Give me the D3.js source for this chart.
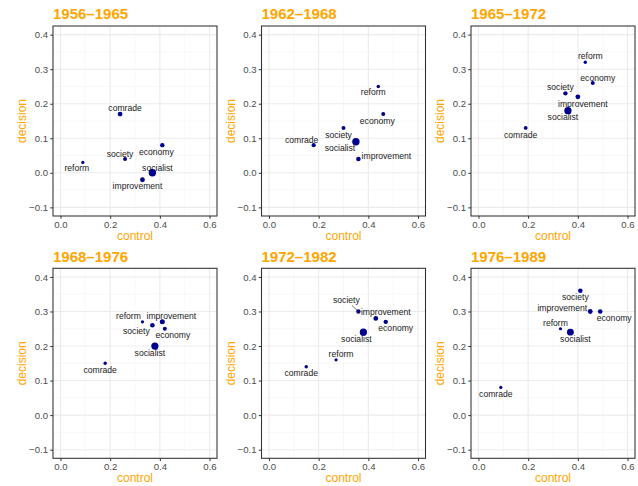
<!DOCTYPE html>
<html>
<head>
<meta charset="utf-8">
<script src="https://cdn.jsdelivr.net/npm/d3@7"></script>
<style>
  body { margin: 0; background: #fff; }
  svg { display: block; font-family: "Liberation Sans", Arial, sans-serif; }
</style>
</head>
<body>
<svg id="chart" width="638" height="486"></svg>
<script>
// data, one entry per period, words in the same order everywhere
var periods = ['1956–1965', '1962–1968', '1965–1972', '1968–1976', '1972–1982', '1976–1989'];
var words = ['comrade', 'economy', 'society', 'reform', 'socialist', 'improvement'];

var controlVals = [
    [0.24, 0.41, 0.26, 0.09, 0.37, 0.33],
    [0.18, 0.46, 0.30, 0.44, 0.35, 0.36],
    [0.19, 0.46, 0.35, 0.43, 0.36, 0.40],
    [0.18, 0.42, 0.37, 0.33, 0.38, 0.41],
    [0.15, 0.47, 0.36, 0.27, 0.38, 0.43],
    [0.09, 0.49, 0.41, 0.33, 0.37, 0.45]
];
var decisionVals = [
    [0.17, 0.08, 0.04, 0.03, 0.00, -0.02],
    [0.08, 0.17, 0.13, 0.25, 0.09, 0.04],
    [0.13, 0.26, 0.23, 0.32, 0.18, 0.22],
    [0.15, 0.25, 0.26, 0.27, 0.20, 0.27],
    [0.14, 0.27, 0.30, 0.16, 0.24, 0.28],
    [0.08, 0.30, 0.36, 0.25, 0.24, 0.30]
];
var freqVals = [
    [42, 35, 29, 19, 100, 42],
    [32, 29, 29, 22, 100, 39],
    [26, 29, 35, 21, 95, 42],
    [21, 29, 39, 19, 95, 46],
    [21, 35, 35, 19, 95, 42],
    [19, 39, 39, 19, 85, 42]
];
var xTicks = [0, 0.2, 0.4, 0.6];
var yTicks = [-0.1, 0, 0.1, 0.2, 0.3, 0.4];

// label placement (repel result), pixels from the point: [dx, dy, segment]
var labelPos = [
    { comrade: [5, -6], economy: [-6, 7], society: [-5, -5], reform: [-6, 6], socialist: [5, -5], improvement: [-5, 6] },
    { comrade: [-12, -5], economy: [-6, 7], society: [-5, 7], reform: [-5, 6], socialist: [-16, 6], improvement: [28, -3] },
    { comrade: [-5, 7], economy: [5, -5], society: [-5, -6], reform: [5, -6], socialist: [-5, 6], improvement: [5, 7] },
    { comrade: [-5, 7], economy: [8, 6], society: [-16, 6], reform: [-14, -6], socialist: [-5, 7], improvement: [9, -6] },
    { comrade: [-5, 6], economy: [10, 6], society: [-12, -11, true], reform: [5, -6], socialist: [-7, 7], improvement: [10, -6] },
    { comrade: [-5, 7], economy: [14, 7], society: [-5, 6], reform: [-5, -6], socialist: [5, 7], improvement: [-28, -3] }
];

var colLeft = [53, 261.5, 471];
var rowTop = [26, 268.3];
var pw = 164, ph = 190;
var orange = '#FFA500';

var svg = d3.select('#chart');

var x = d3.scaleLinear().domain([-0.03, 0.63]).range([0, pw]);
var y = d3.scaleLinear().domain([-0.125, 0.425]).range([ph, 0]);
var r = d3.scaleSqrt().domain([0, 100]).range([0, 3.7]);

var fmt = function(v) { return d3.format('.1f')(v).replace('-', '\u2212'); };

periods.forEach(function(p, k) {
    var left = colLeft[k % 3], top = rowTop[Math.floor(k / 3)];
    var g = svg.append('g').attr('transform', 'translate(' + left + ',' + top + ')');

    // grid
    var minorX = [-0.1, 0.1, 0.3, 0.5];
    var minorY = [-0.05, 0.05, 0.15, 0.25, 0.35];
    g.selectAll('.mx').data(minorX.filter(function(v) { return v > -0.03; })).enter().append('line')
        .attr('x1', d => x(d)).attr('x2', d => x(d)).attr('y1', 0).attr('y2', ph)
        .attr('stroke', '#F2F2F2').attr('stroke-width', 0.55);
    g.selectAll('.my').data(minorY).enter().append('line')
        .attr('y1', d => y(d)).attr('y2', d => y(d)).attr('x1', 0).attr('x2', pw)
        .attr('stroke', '#F2F2F2').attr('stroke-width', 0.55);
    g.selectAll('.gx').data(xTicks).enter().append('line')
        .attr('x1', d => x(d)).attr('x2', d => x(d)).attr('y1', 0).attr('y2', ph)
        .attr('stroke', '#EBEBEB').attr('stroke-width', 1.07);
    g.selectAll('.gy').data(yTicks).enter().append('line')
        .attr('y1', d => y(d)).attr('y2', d => y(d)).attr('x1', 0).attr('x2', pw)
        .attr('stroke', '#EBEBEB').attr('stroke-width', 1.07);

    // axes
    var xa = g.append('g').attr('transform', 'translate(0,' + ph + ')')
        .call(d3.axisBottom(x).tickValues(xTicks).tickFormat(fmt).tickSize(2.75).tickPadding(2.2));
    var ya = g.append('g')
        .call(d3.axisLeft(y).tickValues(yTicks).tickFormat(fmt).tickSize(2.75).tickPadding(2.2));
    [xa, ya].forEach(function(a) {
        a.select('.domain').remove();
        a.selectAll('line').attr('stroke', '#333333');
        a.selectAll('text').attr('fill', '#4D4D4D').style('font-size', '9.6px')
            .style('font-family', '"Liberation Sans", Arial, sans-serif');
    });

    g.append('rect').attr('width', pw).attr('height', ph)
        .attr('fill', 'none').attr('stroke', '#333333').attr('stroke-width', 1.07);

    // points
    var pts = words.map(function(w, i) {
        return { word: w, cx: controlVals[k][i], dy: decisionVals[k][i], f: freqVals[k][i] };
    });

    var labs = g.append('g');
    pts.forEach(function(d) {
        var off = labelPos[k][d.word];
        var px = x(d.cx), py = y(d.dy);
        var t = labs.append('text')
            .attr('x', px + off[0]).attr('y', py + off[1])
            .attr('text-anchor', 'middle').attr('dominant-baseline', 'central')
            .style('font-size', '8.6px').attr('fill', '#1a1a1a')
            .text(d.word);
        if (off[2]) {
            var b = t.node().getBBox();
            var lx = px + off[0], ly = py + off[1];
            var vx = px - lx, vy = py - ly;
            var s = Math.min((b.width / 2) / Math.abs(vx || 1e-6), (b.height / 2) / Math.abs(vy || 1e-6));
            labs.append('line')
                .attr('x1', lx + vx * s).attr('y1', ly + vy * s)
                .attr('x2', px).attr('y2', py)
                .attr('stroke', '#1a1a1a').attr('stroke-width', 0.6);
        }
    });

    g.selectAll('circle').data(pts).enter().append('circle')
        .attr('cx', d => x(d.cx)).attr('cy', d => y(d.dy)).attr('r', d => r(d.f))
        .attr('fill', '#00008B');

    // titles
    g.append('text').attr('x', 0).attr('y', -6.7)
        .style('font-size', '15px').style('font-weight', 'bold').attr('fill', orange)
        .text(p);
    g.append('text').attr('x', pw / 2).attr('y', ph + 20)
        .attr('text-anchor', 'middle').attr('dominant-baseline', 'central')
        .style('font-size', '12px').attr('fill', orange).text('control');
    g.append('text').attr('transform', 'translate(-31,' + ph / 2 + ') rotate(-90)')
        .attr('text-anchor', 'middle').attr('dominant-baseline', 'central')
        .style('font-size', '12px').attr('fill', orange).text('decision');
});
</script>
</body>
</html>
